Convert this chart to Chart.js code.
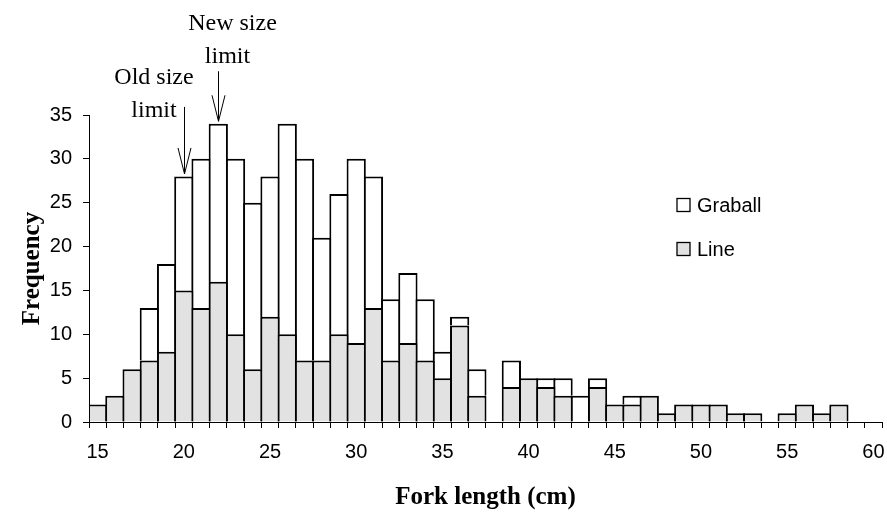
<!DOCTYPE html>
<html>
<head>
<meta charset="utf-8">
<script src="https://cdn.jsdelivr.net/npm/chart.js@4/dist/chart.umd.min.js"></script>
<style>
html,body{margin:0;padding:0;background:#fff;}
#wrap{width:887px;height:514px;position:relative;}
</style>
</head>
<body>
<div id="wrap"><canvas id="c"></canvas></div>
<script>
// ---- data ----
const categories = ['15','16','17','18','19','20','21','22','23','24','25','26','27','28','29','30',
  '31','32','33','34','35','36','37','38','39','40','41','42','43','44','45','46','47','48','49','50',
  '51','52','53','54','55','56','57','58','59','60'];
const lineValues = [2,3,6,7,8,15,13,16,10,6,12,10,7,7,10,9,
  13,7,9,7,5,11,3,0,4,5,4,3,0,4,2,2,3,1,2,2,
  2,1,1,0,1,2,1,2,0,0];
const graballValues = [0,0,0,6,10,13,17,18,20,19,16,24,23,14,16,21,
  15,7,8,7,3,1,3,0,3,0,1,2,3,1,0,1,0,0,0,0,
  0,0,0,0,0,0,0,0,0,0];
const yTickValues = [0,5,10,15,20,25,30,35];
const seriesNames = ['Graball','Line'];
const xTitle = 'Fork length (cm)';
const yTitle = 'Frequency';
const annotationTexts = [['Old size','limit'],['New size','limit']];
const annotationCategories = ['20','22'];

// ---- styles / layout ----
const LINE_FILL = '#e2e2e2';
const GRABALL_FILL = '#ffffff';
const SANS = '"Liberation Sans", Arial, sans-serif';
const SERIF = '"Liberation Serif", "Times New Roman", serif';
const annotationLayout = [
  {arrowLen: 67, textDx: -30.5, lineBaselines: [-90, -56.5]},
  {arrowLen: 50, textDx: [14, 9], lineBaselines: [-91.5, -58]}
];

const toNull = v => v === 0 ? null : v;

const legendPlugin = {
  id: 'customLegend',
  afterDraw(chart) {
    const ctx = chart.ctx;
    ctx.save();
    const items = [
      {name: seriesNames[0], fill: GRABALL_FILL, y: 205},
      {name: seriesNames[1], fill: LINE_FILL, y: 249}
    ];
    ctx.font = '20px ' + SANS;
    ctx.textBaseline = 'middle';
    ctx.textAlign = 'left';
    items.forEach(it => {
      ctx.fillStyle = it.fill;
      ctx.fillRect(677, it.y - 6.5, 13, 13);
      ctx.strokeStyle = '#000';
      ctx.lineWidth = 1.3;
      ctx.strokeRect(677, it.y - 6.5, 13, 13);
      ctx.fillStyle = '#000';
      ctx.fillText(it.name, 697, it.y + 1);
    });
    ctx.restore();
  }
};

const annotationPlugin = {
  id: 'sizeLimits',
  afterDatasetsDraw(chart) {
    const ctx = chart.ctx;
    const xs = chart.scales.x, ys = chart.scales.y;
    ctx.save();
    ctx.strokeStyle = '#000';
    ctx.fillStyle = '#000';
    ctx.lineWidth = 1;
    ctx.font = '24px ' + SERIF;
    ctx.textAlign = 'center';
    ctx.textBaseline = 'alphabetic';
    annotationCategories.forEach((cat, k) => {
      const i = categories.indexOf(cat);
      const x = Math.round(xs.getPixelForValue(i)) + 0.5;
      const total = lineValues[i] + graballValues[i];
      const tip = ys.getPixelForValue(total) - 2.5;
      const L = annotationLayout[k];
      const top = tip - L.arrowLen;
      ctx.beginPath();
      ctx.moveTo(x, top); ctx.lineTo(x, tip);
      ctx.moveTo(x - 6.5, tip - 26); ctx.lineTo(x, tip); ctx.lineTo(x + 6.5, tip - 26);
      ctx.stroke();
      annotationTexts[k].forEach((t, j) => {
        const dx = Array.isArray(L.textDx) ? L.textDx[j] : L.textDx;
        ctx.fillText(t, x + dx, tip + L.lineBaselines[j]);
      });
    });
    ctx.restore();
  }
};

const barCommon = {
  borderColor: '#000',
  borderWidth: 2,
  borderSkipped: 'start',
  barPercentage: 1.116,
  categoryPercentage: 1.0,
  stack: 's'
};

new Chart(document.getElementById('c'), {
  type: 'bar',
  data: {
    labels: categories,
    datasets: [
      Object.assign({label: seriesNames[1], data: lineValues.map(toNull), backgroundColor: LINE_FILL}, barCommon),
      Object.assign({label: seriesNames[0], data: graballValues.map(toNull), backgroundColor: GRABALL_FILL}, barCommon)
    ]
  },
  options: {
    responsive: true,
    maintainAspectRatio: false,
    animation: false,
    devicePixelRatio: 1,
    layout: {padding: {top: 115, right: 5, left: 0, bottom: 0}},
    plugins: {legend: {display: false}, tooltip: {enabled: false}},
    scales: {
      x: {
        stacked: true,
        offset: true,
        grid: {display: true, drawOnChartArea: false, drawTicks: true, tickLength: 6, color: '#000', offset: true, lineWidth: 1},
        border: {display: true, color: '#000', width: 1},
        ticks: {
          autoSkip: false, maxRotation: 0, minRotation: 0, padding: 12, color: '#000',
          font: {family: SANS, size: 20},
          callback: function(val) {
            const l = this.getLabelForValue(val);
            return (+l) % 5 === 0 ? l : '';
          }
        },
        title: {display: true, text: xTitle, color: '#000', font: {family: SERIF, size: 25, weight: 'bold'}, padding: {top: 0, bottom: 1}},
        afterFit(scale) { scale.height = 92; scale.paddingLeft = 0; scale.paddingRight = 0; }
      },
      y: {
        stacked: true,
        min: 0, max: 35,
        afterBuildTicks(scale) { scale.ticks = yTickValues.map(v => ({value: v})); },
        grid: {display: true, drawOnChartArea: false, drawTicks: true, tickLength: 6, color: '#000', lineWidth: 1},
        border: {display: true, color: '#000', width: 1},
        ticks: {padding: 11, color: '#000', font: {family: SANS, size: 20}},
        title: {display: true, text: yTitle, color: '#000', font: {family: SERIF, size: 25, weight: 'bold'}, padding: {top: 18, bottom: 0}},
        afterFit(scale) { scale.width = 89; }
      }
    }
  },
  plugins: [annotationPlugin, legendPlugin]
});
</script>
</body>
</html>
